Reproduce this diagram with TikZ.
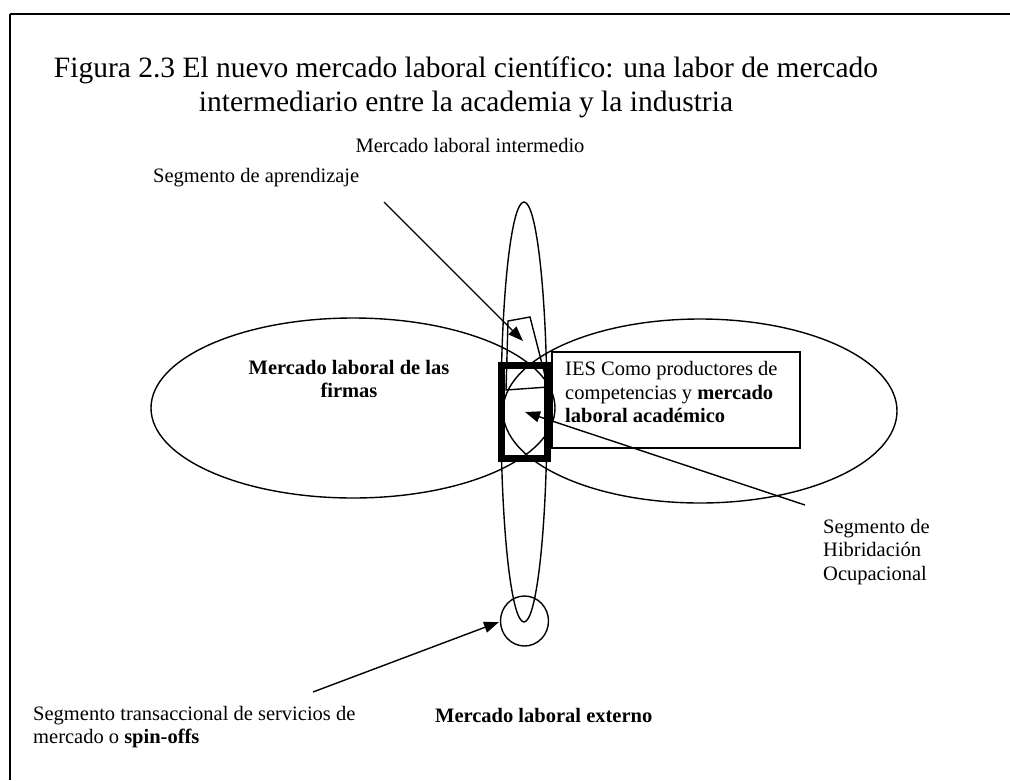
\documentclass[tikz,border=0pt]{standalone}
\usepackage{fontspec}
\setmainfont{Liberation Serif}
\usetikzlibrary{arrows.meta}
\begin{document}
\begin{tikzpicture}[x=1pt,y=-1pt,
  ln/.style={line width=1.4pt},
  arr/.style={line width=1.4pt,-{Triangle[length=15pt,width=11pt]}},
  txt/.style={font=\fontsize{20.5}{23.5}\selectfont, inner sep=0pt},
  btxt/.style={font=\fontsize{20.5}{23.5}\selectfont\bfseries, inner sep=0pt}]
\useasboundingbox (0,0) rectangle (1010,780);
% frame
\draw[line width=2pt] (10,14) -- (1010,14);
\draw[line width=1.3pt] (10,14) -- (10,780);
% title
\node[font=\fontsize{29.5}{34}\selectfont, align=center, inner sep=0pt] (title) at (466,87)
  {Figura 2.3 El nuevo mercado laboral científico: una labor de mercado\\intermediario entre la academia y la industria};
% ellipses
\draw[ln] (353,408) ellipse [x radius=202pt, y radius=90pt];
\draw[ln] (700,411) ellipse [x radius=197pt, y radius=92pt];
\draw[ln] (524,412) ellipse [x radius=23pt, y radius=210pt];
\draw[ln] (524.5,621) ellipse [x radius=24pt, y radius=25pt];
% learning segment quadrilateral
\draw[ln] (506,390) -- (508,321) -- (530,317) -- (548,387) -- cycle;
% thick box
\draw[line width=7pt] (501.5,365.5) rectangle (547.5,458);
% IES box
\draw[ln] (552,352) rectangle (800,448);
\node[txt, anchor=west, align=left] (ies) at (565,392)
  {IES Como productores de\\competencias y \textbf{mercado}\\\textbf{laboral académico}};
% texts
\node[txt] (inter) at (470,145) {Mercado laboral intermedio};
\node[txt, anchor=west] (aprend) at (153,178) {Segmento de aprendizaje};
\node[btxt, align=center] (firmas) at (349,379) {Mercado laboral de las\\firmas};
\node[txt, anchor=west, align=left] (hibr) at (823,552) {Segmento de\\Hibridación\\Ocupacional};
\node[txt, anchor=north west, align=left] (trans) at (33,706) {Segmento transaccional de servicios de\\mercado o \textbf{spin-offs}};
\node[btxt, anchor=west] (externo) at (435,715) {Mercado laboral externo};
% arrows
\coordinate (a1s) at (384,202);
\coordinate (a1e) at (523,341);
\coordinate (a2s) at (805,505);
\coordinate (a2e) at (525,412);
\coordinate (a3s) at (313,692);
\coordinate (a3e) at (499,622);
\draw[arr] (a1s) -- (a1e);
\draw[arr] (a2s) -- (a2e);
\draw[arr] (a3s) -- (a3e);
\end{tikzpicture}
\end{document}
